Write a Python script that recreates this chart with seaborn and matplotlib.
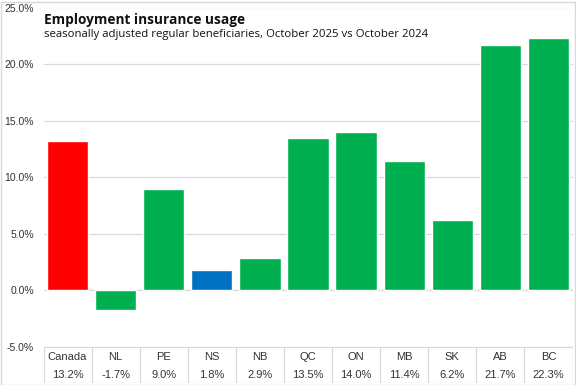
"""Employment insurance usage bar chart with a value table under the axis."""

import matplotlib
matplotlib.use("Agg")
import matplotlib.pyplot as plt
import pandas as pd
import seaborn as sns

regions = ["Canada", "NL", "PE", "NS", "NB", "QC", "ON", "MB", "SK", "AB", "BC"]
change_pct = [13.2, -1.7, 9.0, 1.8, 2.9, 13.5, 14.0, 11.4, 6.2, 21.7, 22.3]
bar_colors = ["#FF0000", "#00B050", "#00B050", "#0070C0", "#00B050", "#00B050",
              "#00B050", "#00B050", "#00B050", "#00B050", "#00B050"]
y_ticks = [-5, 0, 5, 10, 15, 20, 25]

title = "Employment insurance usage"
subtitle = "seasonally adjusted regular beneficiaries, October 2025 vs October 2024"

df = pd.DataFrame({"region": regions, "change": change_pct})

sns.set_style("white")
plt.rcParams["font.family"] = ["Liberation Sans", "DejaVu Sans"]

W, H = 576, 385
fig = plt.figure(figsize=(W / 100, H / 100), dpi=100)

# plot area in pixels
left, right, top, bottom = 43.5, 572.5, 7.5, 347
ax = fig.add_axes([left / W, 1 - bottom / H, (right - left) / W, (bottom - top) / H])

sns.barplot(data=df, x="region", y="change", hue="region",
            palette=dict(zip(regions, bar_colors)), width=0.86,
            saturation=1, legend=False, ax=ax, zorder=3)

ax.set_ylim(y_ticks[0], y_ticks[-1])
ax.set_xlim(-0.5, len(regions) - 0.5)
ax.set_yticks(y_ticks)
ax.set_yticklabels([f"{v:.1f}%" for v in y_ticks], fontsize=7.5, color="#333333")
ax.tick_params(axis="y", length=0, pad=7)
ax.set_xticks([])
ax.set_xlabel("")
ax.set_ylabel("")
for v in y_ticks:
    ax.axhline(v, color="#D9D9D9", lw=0.9, zorder=1)
for s in ax.spines.values():
    s.set_visible(False)

# value table below the axis
tab = fig.add_axes([left / W, 1 - 383 / H, (right - left) / W, (383 - bottom) / H])
tab.set_xlim(-0.5, len(regions) - 0.5)
tab.set_ylim(0, 2)
tab.axis("off")
tab.axhline(2, color="#D9D9D9", lw=0.9)
tab.axhline(0, color="#D9D9D9", lw=0.9)
for i in range(len(regions) + 1):
    tab.axvline(i - 0.5, color="#D9D9D9", lw=0.9)
for i, (r, v) in enumerate(zip(regions, change_pct)):
    tab.text(i, 1.45, r, ha="center", va="center", fontsize=8, color="#333333")
    tab.text(i, 0.45, f"{v:.1f}%", ha="center", va="center", fontsize=8, color="#333333")

fig.text(left / W, 1 - 24 / H, title, fontsize=9.8, fontweight="bold",
         family=["Open Sans", "DejaVu Sans"], color="#111111", va="baseline")
fig.text(left / W, 1 - 37 / H, subtitle, fontsize=8.2,
         family=["Open Sans", "DejaVu Sans"], color="#111111", va="baseline")

# light border around the whole figure
fig.patches.append(plt.Rectangle((0.5 / W, 0.5 / H), 1 - 2 / W, 1 - 2 / H,
                                 transform=fig.transFigure, fill=False,
                                 edgecolor="#D9D9D9", lw=1))

fig.savefig("out.png", dpi=100)
